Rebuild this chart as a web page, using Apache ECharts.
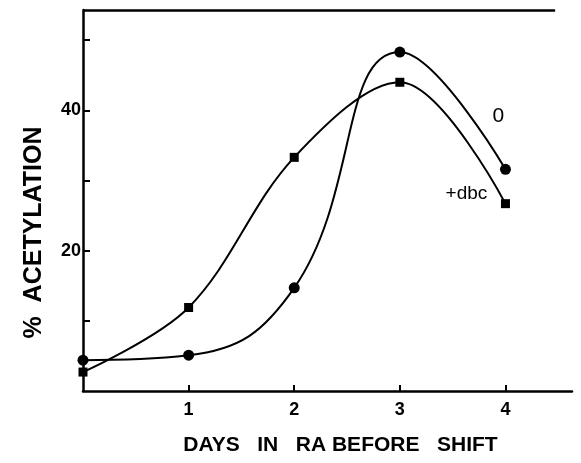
<!DOCTYPE html>
<html>
<head>
<meta charset="utf-8">
<script src="https://cdn.jsdelivr.net/npm/echarts@6/dist/echarts.min.js"></script>
<style>
  html, body { margin: 0; padding: 0; background: #fff; }
  #chart { width: 581px; height: 463px; }
</style>
</head>
<body>
<div id="chart"></div>
<script>
// days in RA before shift
const days = [0, 1, 2, 3, 4];
// % acetylation, no addition ("0") - circles
const noAdd = [4.4, 5.1, 14.7, 48.3, 31.6];
// % acetylation, +dbc - squares
const withDbc = [2.7, 11.9, 33.3, 44.0, 26.7];
const xTicks = [1, 2, 3, 4];
const yTickLabels = [20, 40];

const yMax = 54.3;
const font = '"Liberation Sans", Arial, sans-serif';

const chart = echarts.init(document.getElementById('chart'));

const pairs = arr => days.map((d, i) => [d, arr[i]]);

const option = {
  animation: false,
  grid: { left: 83, right: 9, top: 10, bottom: 72 },
  xAxis: {
    type: 'value', min: 0, max: 4.63, interval: 1,
    axisLine: { show: true, lineStyle: { color: '#000', width: 2.5 } },
    axisTick: { show: true, inside: true, length: 6, lineStyle: { color: '#000', width: 2 },
      customValues: xTicks },
    axisLabel: { color: '#000', fontSize: 18, fontWeight: 'bold', fontFamily: font, margin: 10,
      customValues: xTicks },
    splitLine: { show: false },
    name: 'DAYS   IN   RA BEFORE   SHIFT',
    nameLocation: 'middle', nameGap: 44,
    nameTextStyle: { color: '#000', fontSize: 21, fontFamily: font, fontWeight: 'bold',
      padding: [0, 0, 0, 26] }
  },
  yAxis: {
    type: 'value', min: 0, max: yMax, interval: 10,
    axisLine: { show: true, lineStyle: { color: '#000', width: 2.5 } },
    axisTick: { show: true, inside: true, length: 7, lineStyle: { color: '#000', width: 2 },
      customValues: [10, 20, 30, 40, 50] },
    axisLabel: { color: '#000', fontSize: 18, fontWeight: 'bold', fontFamily: font, margin: 2,
      customValues: yTickLabels },
    splitLine: { show: false },
    name: '%  ACETYLATION',
    nameLocation: 'middle', nameGap: 36, nameRotate: 90,
    nameTextStyle: { color: '#000', fontSize: 25, fontFamily: font, fontWeight: 'bold',
      padding: [0, 64, 0, 0] }
  },
  series: [
    {
      name: '0', type: 'line', smooth: 0.45,
      data: pairs(noAdd).map((p, i) => i === days.length - 1
        ? { value: p, label: { show: true, formatter: '0', position: 'inside', offset: [-7, -53] } }
        : p),
      symbol: 'circle', symbolSize: 11,
      itemStyle: { color: '#000' },
      lineStyle: { color: '#000', width: 2 },
      label: { show: false, color: '#000', fontSize: 21, fontFamily: font },
      markLine: {
        silent: true, symbol: 'none', label: { show: false },
        lineStyle: { color: '#000', width: 2.5, type: 'solid' },
        data: [[{ coord: [0, yMax] }, { coord: [4.47, yMax] }]]
      }
    },
    {
      name: '+dbc', type: 'line', smooth: 0.35,
      data: pairs(withDbc).map((p, i) => i === days.length - 1
        ? { value: p, label: { show: true, formatter: '+dbc', position: 'inside', offset: [-39, -10] } }
        : p),
      symbol: 'rect', symbolSize: 9,
      itemStyle: { color: '#000' },
      lineStyle: { color: '#000', width: 2 },
      label: { show: false, color: '#000', fontSize: 19, fontFamily: font }
    }
  ]
};

chart.setOption(option);
</script>
</body>
</html>
